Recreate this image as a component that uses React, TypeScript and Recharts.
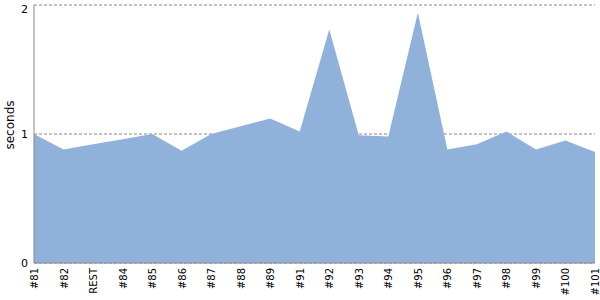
import React from "react";
import { AreaChart, Area, XAxis, YAxis, CartesianGrid } from "recharts";

const categories = ["#81", "#82", "REST", "#84", "#85", "#86", "#87", "#88", "#89", "#91", "#92", "#93", "#94", "#95", "#96", "#97", "#98", "#99", "#100", "#101"];
const seconds = [1.0, 0.88, 0.92, 0.96, 1.0, 0.87, 1.0, 1.06, 1.12, 1.02, 1.81, 0.99, 0.98, 1.94, 0.88, 0.92, 1.02, 0.88, 0.95, 0.86];
const yTicks = [0, 1, 2];

const data = categories.map((c, i) => ({ name: c, value: seconds[i] }));

const FONT = "DejaVu Sans, sans-serif";

const XTick = (props: any) => {
  const { x, y, payload } = props;
  return (
    <text
      x={0}
      y={0}
      transform={`translate(${x + 4},${y - 3}) rotate(-90)`}
      textAnchor="end"
      fontFamily={FONT}
      fontSize={10}
      fill="#000"
    >
      {payload.value}
    </text>
  );
};

const YTick = (props: any) => {
  const { x, y, payload } = props;
  return (
    <text x={x + 2} y={y + 4} textAnchor="end" fontFamily={FONT} fontSize={11} fill="#000">
      {payload.value}
    </text>
  );
};

export default function App() {
  return (
    <div style={{ position: "absolute", left: 0, top: 0, width: 600, height: 300, background: "#fff" }}>
      <AreaChart width={600} height={300} data={data} margin={{ top: 5, right: 5, bottom: 0, left: 0 }}>
        <CartesianGrid vertical={false} horizontal={true} stroke="#888" strokeDasharray="3 2" />
        <XAxis
          dataKey="name"
          interval={0}
          height={37}
          tickLine={false}
          axisLine={{ stroke: "#888" }}
          tick={<XTick />}
        />
        <YAxis
          domain={[0, 2]}
          ticks={yTicks}
          width={34}
          tickLine={false}
          axisLine={{ stroke: "#888" }}
          tick={<YTick />}
        />
        <Area
          type="linear"
          dataKey="value"
          stroke="none"
          fill="#8FB1DA"
          fillOpacity={1}
          isAnimationActive={false}
        />
        <text
          x={0}
          y={0}
          transform="translate(14,125) rotate(-90)"
          textAnchor="middle"
          fontFamily={FONT}
          fontSize={12}
          fill="#000"
        >
          seconds
        </text>
      </AreaChart>
    </div>
  );
}
